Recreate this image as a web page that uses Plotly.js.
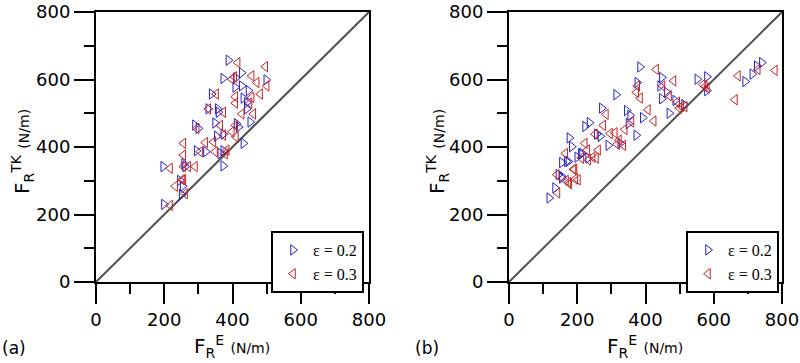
<!DOCTYPE html>
<html>
<head>
<meta charset="utf-8">
<script src="https://cdn.plot.ly/plotly-3.0.1.min.js"></script>
<style>html,body{margin:0;padding:0;background:#fff;}#chart{width:800px;height:363px;}</style>
</head>
<body>
<div id="chart"></div>
<script>
// ---- data (N/m) ----
const diagX = [0, 800];
const diagY = [0, 800];

const aBlueX = [388,373,427,410,408,427,499,339,447,432,442,329,357,359,442,452,349,290,412,418,432,354,373,295,322,364,373,373,258,197,261,246,254,251,199,300];
const aBlueY = [657,603,620,605,577,581,599,557,567,545,532,513,513,503,513,474,471,465,469,459,411,432,438,389,386,381,389,344,350,342,342,301,284,259,230,455];
const aRedX = [415,496,456,398,405,471,500,481,352,408,456,408,450,329,373,427,461,295,364,408,373,398,410,256,320,344,349,383,305,256,378,256,290,270,217,252,232,261,256,217];
const aRedY = [650,638,611,601,608,591,581,557,557,549,547,530,530,513,503,498,498,455,464,464,435,445,430,411,413,415,386,391,386,376,380,342,342,342,337,303,284,262,303,227];

const bBlueX = [384,376,448,443,462,314,448,487,513,272,345,355,392,470,236,223,350,257,268,373,177,291,326,184,214,169,155,552,580,580,692,713,726,741,118,135,145,155,155,174,232,200,210];
const bBlueY = [637,591,606,581,562,555,543,538,526,515,508,494,487,500,472,461,469,438,432,435,427,405,411,401,381,357,313,601,608,567,594,616,640,650,249,279,318,308,354,357,367,370,380];
const bRedX = [431,482,376,373,384,450,469,493,499,407,424,284,276,359,339,296,310,252,335,317,322,261,222,229,232,212,165,189,194,174,574,568,580,671,662,729,779,142,140,167,177,202,192,245,255,505,515];
const bRedY = [630,596,581,562,545,581,552,533,515,510,477,497,464,474,452,440,442,438,405,408,420,391,411,391,362,367,381,334,305,295,579,585,575,611,540,630,627,264,318,301,291,303,334,370,367,520,520];

const legendNames = ['\u03b5 = 0.2', '\u03b5 = 0.3'];

const blue = 'rgb(35,35,200)';
const red = 'rgb(200,35,35)';

function pts(x, y, name, sym, col, xa, ya, leg) {
  return {x: x, y: y, name: name, type: 'scatter', mode: 'markers',
    xaxis: xa, yaxis: ya, legend: leg,
    marker: {symbol: sym, size: 9, color: col, line: {color: col, width: 1}}};
}
function diag(xa, ya) {
  return {x: diagX, y: diagY, type: 'scatter', mode: 'lines', xaxis: xa, yaxis: ya,
    showlegend: false, line: {color: 'rgb(80,80,80)', width: 2}, hoverinfo: 'skip'};
}

const traces = [
  diag('x', 'y'), diag('x2', 'y2'),
  pts(aBlueX, aBlueY, legendNames[0], 'triangle-right-open', blue, 'x', 'y', 'legend'),
  pts(aRedX, aRedY, legendNames[1], 'triangle-left-open', red, 'x', 'y', 'legend'),
  pts(bBlueX, bBlueY, legendNames[0], 'triangle-right-open', blue, 'x2', 'y2', 'legend2'),
  pts(bRedX, bRedY, legendNames[1], 'triangle-left-open', red, 'x2', 'y2', 'legend2')
];

const W = 800, H = 363;
const tickFont = {family: 'DejaVu Sans', size: 18, color: '#000'};
function ax(domain, anchor) {
  return {domain: domain, anchor: anchor, range: [0, 800], dtick: 200, tick0: 0,
    showgrid: false, zeroline: false, showline: true, mirror: true,
    linecolor: '#000', linewidth: 2, ticks: 'outside', ticklen: 20, tickwidth: 2,
    tickcolor: '#000', tickfont: tickFont, fixedrange: true, ticklabeloverflow: 'allow',
    minor: {dtick: 100, tick0: 0, ticklen: 10, tickwidth: 2, tickcolor: '#000', ticks: 'outside', showgrid: false}};
}
const yDom = [1 - 282 / H, 1 - 12 / H];
const legendBase = {bordercolor: '#000', borderwidth: 2, bgcolor: '#fff',
  font: {family: 'Liberation Serif', size: 16, color: '#000'},
  xanchor: 'right', yanchor: 'top', tracegroupgap: 0, itemwidth: 30};

const annFont = {family: 'DejaVu Sans', size: 20, color: '#000'};
const xTitle = 'F<sub>R</sub><sup>E</sup> <span style="font-size:14px">(N/m)</span>';
const yTitle = 'F<sub>R</sub><sup>TK</sup> <span style="font-size:14px">(N/m)</span>';

const layout = {
  width: W, height: H, margin: {l: 0, r: 0, t: 0, b: 0},
  paper_bgcolor: '#fff', plot_bgcolor: '#fff',
  xaxis: ax([96 / W, 369 / W], 'y'),
  yaxis: ax(yDom, 'x'),
  xaxis2: ax([509 / W, 782 / W], 'y2'),
  yaxis2: ax(yDom, 'x2'),
  legend: Object.assign({x: 364 / W, y: 1 - 231 / H}, legendBase),
  legend2: Object.assign({x: 779 / W, y: 1 - 231 / H}, legendBase),
  annotations: [
    {text: xTitle, x: 232 / W, y: 1 - 346 / H, xref: 'paper', yref: 'paper', showarrow: false, font: annFont, xanchor: 'center', yanchor: 'middle'},
    {text: xTitle, x: 645 / W, y: 1 - 346 / H, xref: 'paper', yref: 'paper', showarrow: false, font: annFont, xanchor: 'center', yanchor: 'middle'},
    {text: yTitle, x: 22 / W, y: 1 - 152 / H, xref: 'paper', yref: 'paper', showarrow: false, font: annFont, textangle: -90, xanchor: 'center', yanchor: 'middle'},
    {text: yTitle, x: 437 / W, y: 1 - 152 / H, xref: 'paper', yref: 'paper', showarrow: false, font: annFont, textangle: -90, xanchor: 'center', yanchor: 'middle'},
    {text: '(a)', x: 14 / W, y: 1 - 348 / H, xref: 'paper', yref: 'paper', showarrow: false, font: {family: 'DejaVu Sans', size: 17, color: '#000'}, xanchor: 'center', yanchor: 'middle'},
    {text: '(b)', x: 427 / W, y: 1 - 348 / H, xref: 'paper', yref: 'paper', showarrow: false, font: {family: 'DejaVu Sans', size: 17, color: '#000'}, xanchor: 'center', yanchor: 'middle'}
  ]
};

Plotly.newPlot('chart', traces, layout, {staticPlot: true, displayModeBar: false});
</script>
</body>
</html>
